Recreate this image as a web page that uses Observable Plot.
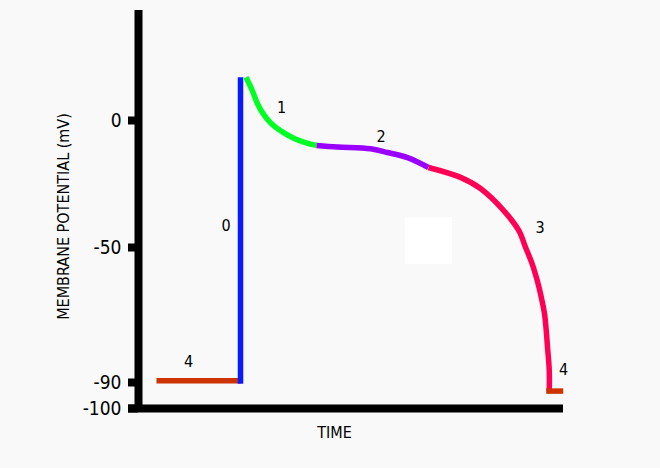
<!DOCTYPE html>
<html><head><meta charset="utf-8">
<script src="https://cdn.jsdelivr.net/npm/d3@7"></script>
<script src="https://cdn.jsdelivr.net/npm/@observablehq/plot@0.6"></script>
<style>body{margin:0;background:#f9f9f9}</style>
</head><body><div id="chart"></div>
<script>
// time (ms) and membrane potential (mV) per phase
const phase4aTime = [14.4, 81.6];
const phase4aVolt = [-89.5, -89.5];
const phase0Time = [81.6, 81.6];
const phase0Volt = [-90.5, 17];
const phase1Time = [86, 91, 95.2, 99.8, 106.4, 115.4, 125, 136.8, 142.4];
const phase1Volt = [17, 11.8, 6.6, 2.6, -1.3, -4.6, -7.2, -9.2, -9.8];
const phase2Time = [142.4, 159.2, 185.6, 199.2, 215.2, 232];
const phase2Volt = [-9.8, -10.4, -11.1, -12.6, -14.6, -18.5];
const phase3Time = [232, 257.6, 273.6, 292, 304.2, 309.6, 315, 319, 322.2, 324.8, 326.2, 327.2, 328.6, 328.6];
const phase3Volt = [-18.5, -22.4, -26.8, -35.4, -43.3, -49.9, -54.9, -59.8, -64.7, -69.6, -74.6, -79.5, -86.4, -93.5];
const phase4bTime = [326.2, 339.8];
const phase4bVolt = [-93.3, -93.3];

const phaseColors = ["#cc3300", "#0a1aff", "#00ff22", "#9900ff", "#ff0055", "#cc3300"];

const yTicks = [0, -50, -90, -100];

const phaseLabels = ["4", "0", "1", "2", "3", "4"];
const labelTime = [40, 70, 114.4, 194, 321.2, 340];
const labelVolt = [-83.8, -41.5, 5.1, -6.5, -42.3, -86.4];

// blank white patch
const patchTime = [213.6, 251.2];
const patchVolt = [-38.2, -55];

const series = [
  [phase4aTime, phase4aVolt], [phase0Time, phase0Volt], [phase1Time, phase1Volt],
  [phase2Time, phase2Volt], [phase3Time, phase3Volt], [phase4bTime, phase4bVolt]
].map(([t, v]) => t.map((d, i) => ({t: d, v: v[i]})));

const labels = phaseLabels.map((s, i) => ({s, t: labelTime[i], v: labelVolt[i]}));

// the drawing's voltage axis is not linear: piecewise mapping of mV
const warp = d3.scaleLinear().domain([-100, -90, -50, 0, 43.3]).range([0, 26, 161, 288, 398]);

const chart = Plot.plot({
  width: 660,
  height: 468,
  style: {background: "#f9f9f9", fontFamily: "DejaVu Sans Condensed, DejaVu Sans, sans-serif", color: "black"},
  x: {domain: [0, 340], range: [138, 563], axis: null},
  y: {transform: v => warp(v), domain: [0, 398], range: [408, 10], axis: null},
  marks: [
    Plot.rect([{}], {x1: () => patchTime[0], x2: () => patchTime[1], y1: () => patchVolt[0], y2: () => patchVolt[1], fill: "white"}),
    Plot.ruleY([-100], {x1: -8, x2: 340, stroke: "black", strokeWidth: 8}),
    Plot.ruleX([0], {y1: -101.5, y2: 43.3, stroke: "black", strokeWidth: 8}),
    Plot.ruleY(yTicks, {y: d => d, x1: -8, x2: 0, stroke: "black", strokeWidth: 8}),
    Plot.text(yTicks, {y: d => d, x: -8, dx: -7, text: d => String(d), textAnchor: "end", fontSize: 19, fill: "black"}),
    ...series.map((data, i) => Plot.line(data, {x: "t", y: "v", stroke: phaseColors[i], strokeWidth: 5.5,
      strokeLinecap: "butt", strokeLinejoin: "round", curve: "catmull-rom"})),
    Plot.text(labels, {x: "t", y: "v", text: "s", fontSize: 16, fill: "black"}),
    Plot.text(["TIME"], {x: 156.8, y: -109.5, text: d => d, fontSize: 16, fill: "black"}),
    Plot.text(["MEMBRANE POTENTIAL (mV)"], {x: -60, y: -37.8, text: d => d, rotate: -90, fontSize: 16, fill: "black"})
  ]
});
document.getElementById("chart").append(chart);
</script>
</body></html>
